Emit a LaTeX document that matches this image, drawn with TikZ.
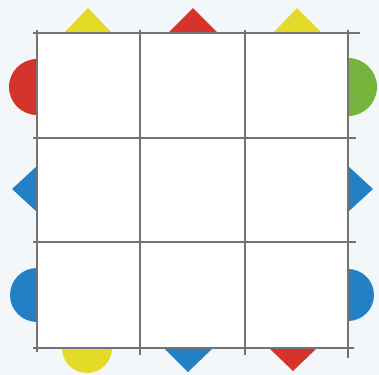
\documentclass[tikz,border=0pt]{standalone}
\begin{document}
\begin{tikzpicture}[x=1bp,y=-1bp,
  gridline/.style={draw=black!55,line width=1.3bp},
  tri/.style={draw=none},
  disc/.style={draw=none}]
\definecolor{bgc}{RGB}{244,247,250}
\definecolor{yel}{RGB}{228,218,40}
\definecolor{redc}{RGB}{212,52,44}
\definecolor{grn}{RGB}{118,180,62}
\definecolor{blu}{RGB}{36,128,196}
\fill[bgc] (0,0) rectangle (379,375);
\useasboundingbox (0,0) rectangle (379,375);
% discs (half outside grid)
\fill[redc] (37,87) circle (28);
\fill[grn] (348,87) circle (29);
\fill[blu] (37,295) circle (27);
\fill[blu] (348,295) circle (26);
\fill[yel] (87,348) circle (25);
% triangles
\fill[yel] (64,33) -- (88,8) -- (112,33) -- cycle;
\fill[redc] (168,33) -- (193,8) -- (218,33) -- cycle;
\fill[yel] (273,33) -- (297,8) -- (322,33) -- cycle;
\fill[blu] (37,166) -- (12,189) -- (37,212) -- cycle;
\fill[blu] (348,166) -- (373,189) -- (348,212) -- cycle;
\fill[blu] (164,348) -- (188,372) -- (213,348) -- cycle;
\fill[redc] (269,348) -- (293,371) -- (317,348) -- cycle;
% grid squares
\fill[white] (37,33) rectangle (348,348);
% grid lines
\draw[gridline] (33,33) -- (360,33);
\draw[gridline] (33,138) -- (356,138);
\draw[gridline] (33,242) -- (356,242);
\draw[gridline] (33,348) -- (354,348);
\draw[gridline] (37,30) -- (37,352);
\draw[gridline] (140,30) -- (140,355);
\draw[gridline] (245,30) -- (245,355);
\draw[gridline] (348,30) -- (348,358);
\end{tikzpicture}
\end{document}
